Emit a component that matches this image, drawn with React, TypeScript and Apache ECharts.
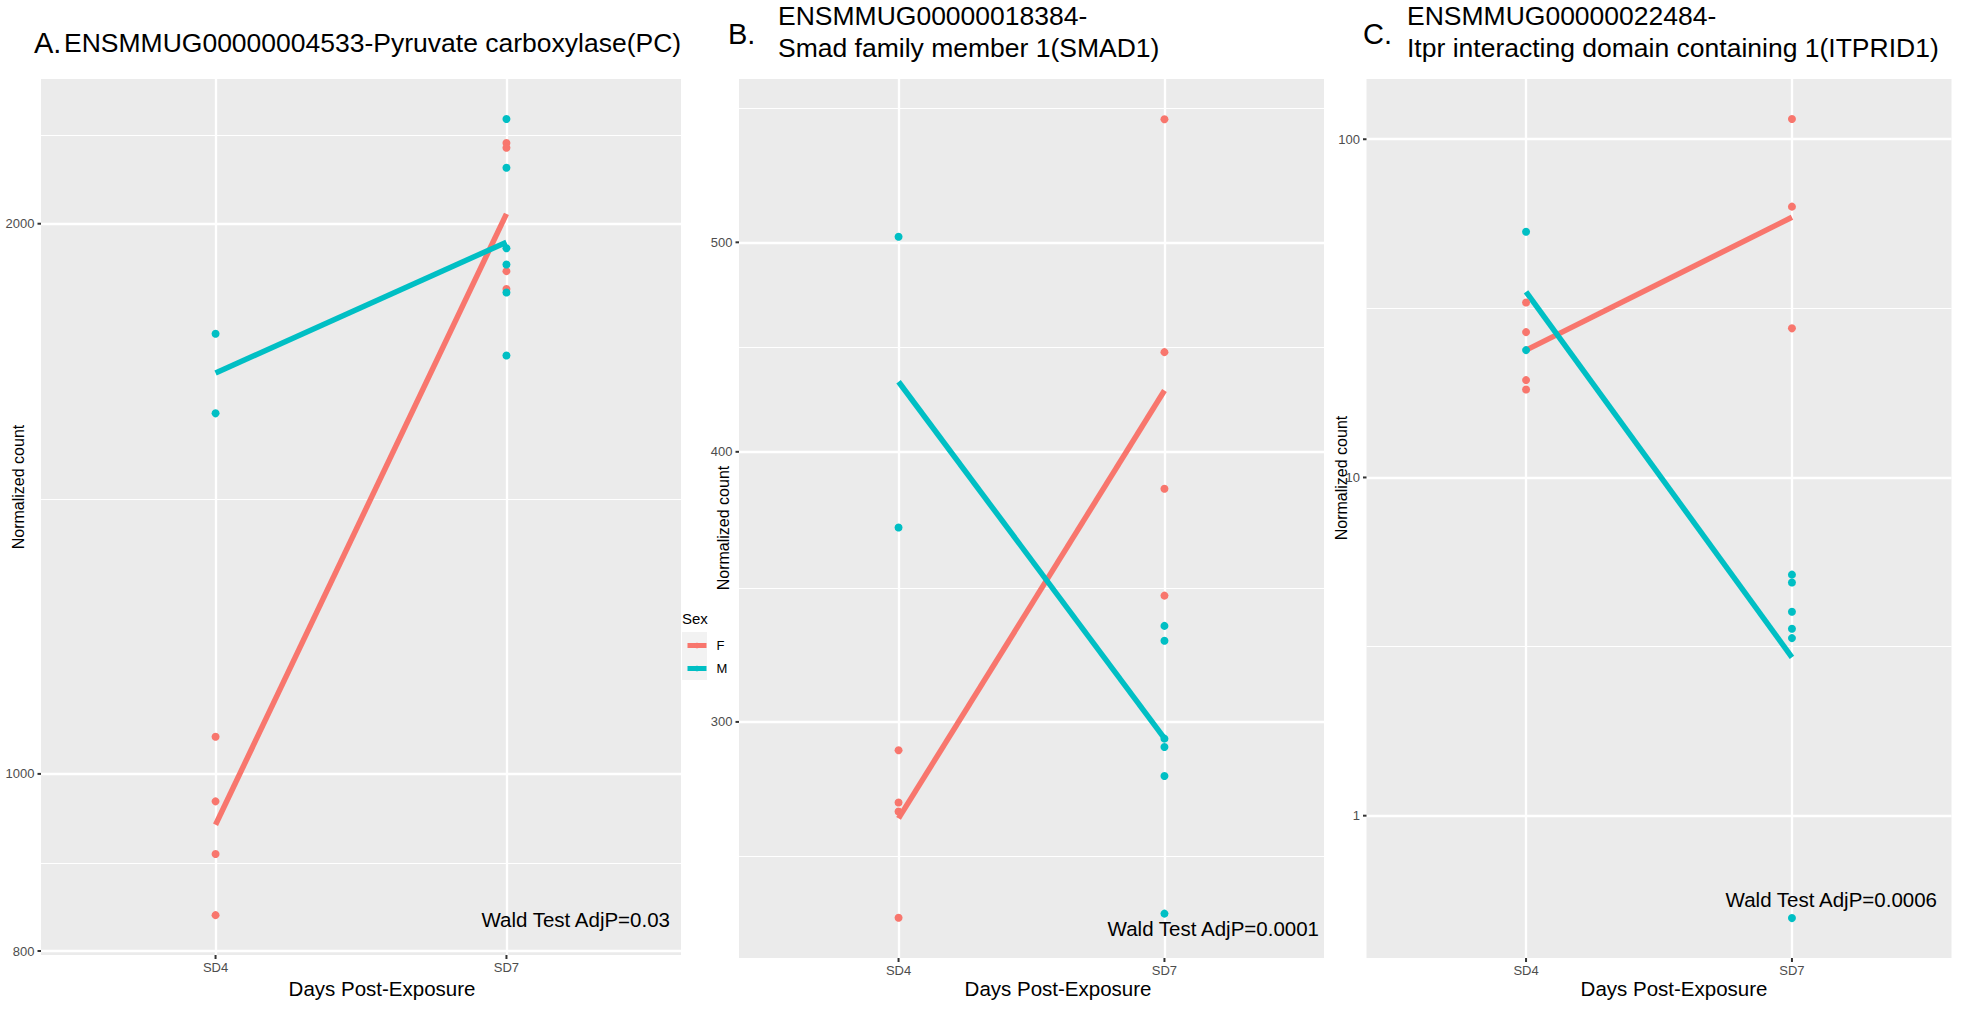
import React, { useEffect, useRef } from "react";
import * as echarts from "echarts";

// ---------------- data ----------------
const categories = ["SD4", "SD7"];
const seriesNames = ["F", "M"];

// Panel A – ENSMMUG00000004533 Pyruvate carboxylase(PC)
const titleA = "ENSMMUG00000004533-Pyruvate carboxylase(PC)";
const fSD4_A = [1048, 966, 904, 837];
const fSD7_A = [2214, 2201, 1884, 1842];
const mSD4_A = [1741, 1575];
const mSD7_A = [2282, 2146, 1939, 1900, 1834, 1694];
const fMean_A = [938, 2025];
const mMean_A = [1657, 1954];
const yMajor_A = [800, 1000, 2000];
const yMinor_A = [894, 1414, 2236];
const yRange_A = [796, 2400];
const wald_A = "Wald Test AdjP=0.03";

// Panel B – ENSMMUG00000018384 Smad family member 1(SMAD1)
const titleB = "ENSMMUG00000018384-\nSmad family member 1(SMAD1)";
const fSD4_B = [291.1, 275.3, 272.7, 243.5];
const fSD7_B = [570, 444.8, 384.6, 343.2];
const mSD4_B = [503, 369];
const mSD7_B = [332.3, 327.1, 294.7, 292.1, 283.2, 244.6];
const fMean_B = [270.7, 427];
const mMean_B = [431, 294.8];
const yMajor_B = [300, 400, 500];
const yMinor_B = [260, 346, 447, 577];
const yRange_B = [233.3, 595];
const wald_B = "Wald Test AdjP=0.0001";

// Panel C – ENSMMUG00000022484 Itpr interacting domain containing 1(ITPRID1)
const titleC = "ENSMMUG00000022484-\nItpr interacting domain containing 1(ITPRID1)";
const fSD4_C = [32.9, 26.9, 19.4, 18.2];
const fSD7_C = [114.8, 63.2, 27.6];
const mSD4_C = [53.3, 23.8];
const mSD7_C = [5.16, 4.89, 4.01, 3.57, 3.35, 0.498];
const fMean_C = [23.8, 58.8];
const mMean_C = [35.4, 2.94];
const yMajor_C = [1, 10, 100];
const yMinor_C = [3.16, 31.6];
const yRange_C = [0.3795, 150.7];
const wald_C = "Wald Test AdjP=0.0006";

const letters = ["A.", "B.", "C."];
const yTitle = "Normalized count";
const xTitle = "Days Post-Exposure";
const legendTitle = "Sex";

// ---------------- styling / layout ----------------
const F_COLOR = "#F8766D";
const M_COLOR = "#00BFC4";
const FONT = "'Liberation Sans', Arial, Helvetica, sans-serif";
const LINE_W = 5.5;
const POINT_SIZE = 8;

const panels = [
  { title: titleA, fSD4: fSD4_A, fSD7: fSD7_A, mSD4: mSD4_A, mSD7: mSD7_A, fMean: fMean_A, mMean: mMean_A, yMajor: yMajor_A, yMinor: yMinor_A, yRange: yRange_A, wald: wald_A },
  { title: titleB, fSD4: fSD4_B, fSD7: fSD7_B, mSD4: mSD4_B, mSD7: mSD7_B, fMean: fMean_B, mMean: mMean_B, yMajor: yMajor_B, yMinor: yMinor_B, yRange: yRange_B, wald: wald_B },
  { title: titleC, fSD4: fSD4_C, fSD7: fSD7_C, mSD4: mSD4_C, mSD7: mSD7_C, fMean: fMean_C, mMean: mMean_C, yMajor: yMajor_C, yMinor: yMinor_C, yRange: yRange_C, wald: wald_C },
];

const layout = [
  { left: 41, top: 79, width: 640, height: 876, letterX: 34, letterY: 43, titleX: 64, titleY: 43, yTitleX: 18, yTitleY: 487, xTitleX: 382, waldX: 670, waldY: 919 },
  { left: 739, top: 79, width: 585, height: 879, letterX: 728, letterY: 34, titleX: 778, titleY: 32, yTitleX: 723, yTitleY: 528, xTitleX: 1058, waldX: 1319, waldY: 928 },
  { left: 1366.5, top: 79, width: 585, height: 879, letterX: 1363, letterY: 34, titleX: 1407, titleY: 32, yTitleX: 1341, yTitleY: 478, xTitleX: 1674, waldX: 1937, waldY: 899 },
];

const fmtNum = (v: number) => String(v);

function buildOption() {
  const grid: any[] = [];
  const xAxis: any[] = [];
  const yAxis: any[] = [];
  const lineSeries: any[] = [];
  const pointSeries: any[] = [];
  const graphic: any[] = [];

  const yRich = {
    v: { fontSize: 13, color: "#4D4D4D", fontFamily: FONT, padding: [0, 3, 0, 0], verticalAlign: "middle" },
    t: { width: 3.5, height: 2, backgroundColor: "#333333", verticalAlign: "middle" },
  };
  const xRich = {
    t: { width: 2, height: 4, backgroundColor: "#333333", align: "center" },
    v: { fontSize: 13, color: "#4D4D4D", fontFamily: FONT, align: "center", padding: [2, 0, 0, 0] },
  };

  panels.forEach((p, i) => {
    const L = layout[i];
    grid.push({
      left: L.left, top: L.top, width: L.width, height: L.height,
      show: true, backgroundColor: "#EBEBEB", borderWidth: 0, containLabel: false, outerBoundsMode: "none",
    });
    xAxis.push({ gridIndex: i, type: "value", min: 0.4, max: 2.6, show: false });
    yAxis.push({ gridIndex: i, type: "log", logBase: 10, min: p.yRange[0], max: p.yRange[1], show: false });

    const markData: any[] = [
      ...p.yMinor.map((v) => ({ yAxis: v, lineStyle: { color: "#FFFFFF", width: 1.2, type: "solid" }, label: { show: false } })),
      ...p.yMajor.map((v) => ({
        yAxis: v,
        lineStyle: { color: "#FFFFFF", width: 2.3, type: "solid" },
        label: { show: true, position: "start", distance: 0, formatter: `{v|${fmtNum(v)}}{t|}`, rich: yRich },
      })),
      ...categories.map((c, k) => ({
        xAxis: k + 1,
        lineStyle: { color: "#FFFFFF", width: 2.3, type: "solid" },
        label: { show: true, position: "start", distance: 0, formatter: `{t|}\n{v|${c}}`, rich: xRich },
      })),
    ];

    lineSeries.push({
      type: "line", name: seriesNames[0], xAxisIndex: i, yAxisIndex: i,
      data: categories.map((c, k) => [k + 1, p.fMean[k]]),
      symbol: "none", lineStyle: { color: F_COLOR, width: LINE_W }, itemStyle: { color: F_COLOR },
      z: 3, silent: true,
      markLine: { silent: true, z: 1, symbol: ["none", "none"], emphasis: { disabled: true }, data: markData },
    });
    lineSeries.push({
      type: "line", name: seriesNames[1], xAxisIndex: i, yAxisIndex: i,
      data: categories.map((c, k) => [k + 1, p.mMean[k]]),
      symbol: "none", lineStyle: { color: M_COLOR, width: LINE_W }, itemStyle: { color: M_COLOR },
      z: 3, silent: true,
    });

    const fPts = [...p.fSD4.map((v) => [1, v]), ...p.fSD7.map((v) => [2, v])];
    const mPts = [...p.mSD4.map((v) => [1, v]), ...p.mSD7.map((v) => [2, v])];
    pointSeries.push({
      type: "scatter", name: seriesNames[0], xAxisIndex: i, yAxisIndex: i, data: fPts,
      symbolSize: POINT_SIZE, itemStyle: { color: F_COLOR, opacity: 1 }, z: 4, silent: true,
    });
    pointSeries.push({
      type: "scatter", name: seriesNames[1], xAxisIndex: i, yAxisIndex: i, data: mPts,
      symbolSize: POINT_SIZE, itemStyle: { color: M_COLOR, opacity: 1 }, z: 4, silent: true,
    });

    // texts
    graphic.push({
      type: "text", x: L.letterX, y: L.letterY,
      style: { text: letters[i], fontSize: 29, fontFamily: FONT, fill: "#000", align: "left", verticalAlign: "middle" },
    });
    graphic.push({
      type: "text", x: L.titleX, y: L.titleY,
      style: { text: p.title, fontSize: 26.5, lineHeight: 32, fontFamily: FONT, fill: "#000", align: "left", verticalAlign: "middle" },
    });
    graphic.push({
      type: "text", x: L.yTitleX, y: L.yTitleY, rotation: Math.PI / 2,
      style: { text: yTitle, fontSize: 16, fontFamily: FONT, fill: "#000", align: "center", verticalAlign: "middle" },
    });
    graphic.push({
      type: "text", x: L.xTitleX, y: 988,
      style: { text: xTitle, fontSize: 20.5, fontFamily: FONT, fill: "#000", align: "center", verticalAlign: "middle" },
    });
    graphic.push({
      type: "text", x: L.waldX, y: L.waldY, z: 10,
      style: { text: p.wald, fontSize: 20.5, fontFamily: FONT, fill: "#000", align: "right", verticalAlign: "middle" },
    });
  });

  // legend decorations
  graphic.push({
    type: "rect", x: 682, y: 632, shape: { width: 25, height: 48 }, z: 0,
    style: { fill: "#F2F2F2" },
  });
  graphic.push({
    type: "text", x: 682, y: 618,
    style: { text: legendTitle, fontSize: 15, fontFamily: FONT, fill: "#000", align: "left", verticalAlign: "middle" },
  });

  return {
    animation: false,
    backgroundColor: "#FFFFFF",
    grid, xAxis, yAxis,
    legend: {
      data: seriesNames, orient: "vertical", left: 685, top: 639, padding: 0, z: 5,
      itemWidth: 19, itemHeight: 7, itemGap: 10, selectedMode: false,
      lineStyle: { width: 5 },
      textStyle: { fontSize: 13, color: "#000", fontFamily: FONT, padding: [0, 0, 0, 5] },
    },
    graphic,
    series: [...lineSeries, ...pointSeries],
  };
}

export default function App() {
  const ref = useRef<HTMLDivElement>(null);
  useEffect(() => {
    if (!ref.current) return;
    const chart = echarts.init(ref.current, null, { renderer: "svg" });
    chart.setOption(buildOption() as any);
    return () => chart.dispose();
  }, []);
  return (
    <div
      ref={ref}
      style={{ position: "fixed", left: 0, top: 0, width: 1965, height: 1011, background: "#FFFFFF" }}
    />
  );
}
